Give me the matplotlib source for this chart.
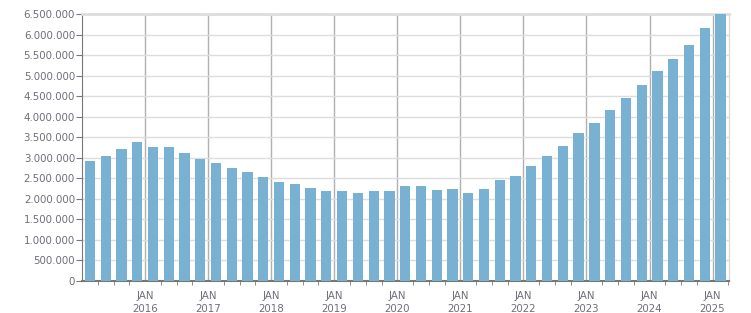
import matplotlib
matplotlib.use("Agg")
import matplotlib.pyplot as plt
from matplotlib.ticker import FuncFormatter, FixedLocator
import numpy as np

# Quarterly values, Q1 2015 .. Q1 2025
quarters = [f"{y}Q{q}" for y in range(2015, 2026) for q in range(1, 5)][:41]
values = [2917000, 3039000, 3209000, 3380000, 3258000, 3258000, 3112000, 2966000,
          2868000, 2746000, 2649000, 2527000, 2405000, 2356000, 2259000, 2186000,
          2186000, 2137000, 2186000, 2186000, 2307000, 2307000, 2210000, 2234000,
          2137000, 2234000, 2454000, 2551000, 2795000, 3039000, 3282000, 3599000,
          3843000, 4160000, 4452000, 4769000, 5110000, 5403000, 5744000, 6159000,
          6500000]
year_labels = [str(y) for y in range(2016, 2026)]
yticks = list(range(0, 6500001, 500000))

def qpos(label):
    y, q = label.split("Q")
    return int(y) + (int(q) - 1) * 0.25 + 0.125

x = [qpos(q) for q in quarters]

fig = plt.figure(figsize=(7.51, 3.13), dpi=100)
ax = fig.add_axes([82/751, 32/313, (729-82)/751, (281-14)/313])

ax.bar(x, values, width=0.163, color="#78b1d2", zorder=3)

ax.set_xlim(2015, 2025.26)
ax.set_ylim(0, 6500000)

def fmt(v, pos):
    return f"{int(v):,}".replace(",", ".")

ax.yaxis.set_major_locator(FixedLocator(yticks))
ax.yaxis.set_major_formatter(FuncFormatter(fmt))

major = [int(y) for y in year_labels]
ax.xaxis.set_major_locator(FixedLocator(major))
ax.set_xticklabels([f"JAN\n{y}" for y in year_labels])
minor = [2015 + i * 0.25 for i in range(1, 42) if (i % 4) != 0]
ax.xaxis.set_minor_locator(FixedLocator(minor))

ax.grid(axis="y", color="#dddddd", linewidth=1, zorder=0)
ax.grid(axis="x", which="major", color="#b0b0b0", linewidth=1, zorder=0)

ax.spines["top"].set_color("#dddddd")
ax.spines["top"].set_linewidth(2)
ax.spines["right"].set_color("#dddddd")
ax.spines["right"].set_linewidth(1)
ax.spines["left"].set_color("#777777")
ax.spines["bottom"].set_color("#777777")
ax.spines["bottom"].set_linewidth(1.5)

ax.tick_params(axis="y", length=4, color="#777777", labelsize=7.4, labelcolor="#6e6e7a", pad=1)
ax.tick_params(axis="x", which="major", length=0, labelsize=7.4, labelcolor="#6e6e7a", pad=7)
ax.tick_params(axis="x", which="minor", length=3, color="#777777")
for lbl in ax.get_xticklabels():
    lbl.set_linespacing(1.35)

fig.savefig("out.png", dpi=100)
